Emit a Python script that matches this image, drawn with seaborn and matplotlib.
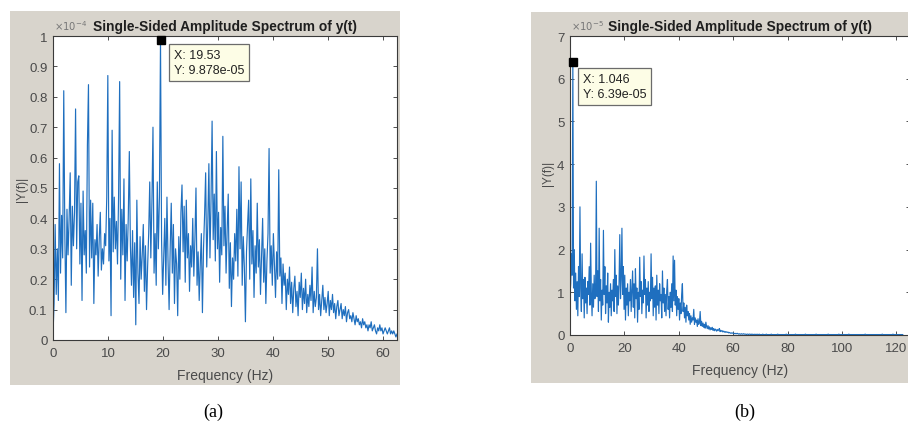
import numpy as np
import pandas as pd
import matplotlib
matplotlib.use("Agg")
import matplotlib.pyplot as plt
import seaborn as sns
from matplotlib.patches import Rectangle

# ---------------- data ----------------
# panel (a): |Y(f)| in units of 1e-4, frequency step in Hz
df_a = 0.1953125
amp_a = [
    0.02, 0.12, 0.38, 0.15, 0.30, 0.13, 0.58, 0.22, 0.41, 0.27,
    0.82, 0.35, 0.09, 0.43, 0.28, 0.40, 0.55, 0.18, 0.44, 0.31,
    0.42, 0.76, 0.30, 0.52, 0.54, 0.25, 0.45, 0.13, 0.49, 0.28,
    0.36, 0.22, 0.64, 0.84, 0.24, 0.46, 0.27, 0.45, 0.12, 0.33,
    0.28, 0.38, 0.21, 0.33, 0.42, 0.23, 0.30, 0.25, 0.35, 0.31,
    0.47, 0.87, 0.26, 0.40, 0.08, 0.69, 0.29, 0.47, 0.30, 0.39,
    0.25, 0.47, 0.85, 0.20, 0.43, 0.28, 0.53, 0.13, 0.38, 0.26,
    0.40, 0.62, 0.31, 0.18, 0.36, 0.14, 0.32, 0.05, 0.46, 0.22,
    0.12, 0.34, 0.20, 0.28, 0.38, 0.16, 0.31, 0.10, 0.24, 0.35,
    0.52, 0.27, 0.45, 0.70, 0.22, 0.35, 0.18, 0.52, 0.30, 0.47,
    0.9878, 0.33, 0.15, 0.28, 0.40, 0.18, 0.47, 0.26, 0.10, 0.30,
    0.45, 0.22, 0.38, 0.12, 0.30, 0.25, 0.08, 0.34, 0.20, 0.42,
    0.51, 0.29, 0.44, 0.19, 0.46, 0.27, 0.35, 0.16, 0.31, 0.24,
    0.40, 0.21, 0.33, 0.50, 0.18, 0.29, 0.13, 0.25, 0.35, 0.09,
    0.30, 0.41, 0.55, 0.24, 0.38, 0.58, 0.27, 0.46, 0.72, 0.33,
    0.48, 0.26, 0.62, 0.30, 0.42, 0.19, 0.37, 0.28, 0.67, 0.31,
    0.44, 0.22, 0.36, 0.48, 0.17, 0.32, 0.11, 0.27, 0.20, 0.35,
    0.26, 0.43, 0.21, 0.57, 0.30, 0.52, 0.18, 0.34, 0.24, 0.06,
    0.29, 0.38, 0.46, 0.20, 0.53, 0.25, 0.36, 0.14, 0.31, 0.22,
    0.45, 0.24, 0.33, 0.15, 0.28, 0.40, 0.19, 0.30, 0.12, 0.26,
    0.35, 0.63, 0.22, 0.31, 0.18, 0.35, 0.24, 0.14, 0.29, 0.20,
    0.56, 0.21, 0.27, 0.12, 0.25, 0.18, 0.22, 0.10, 0.20, 0.15,
    0.24, 0.12, 0.19, 0.09, 0.17, 0.21, 0.11, 0.16, 0.08, 0.19,
    0.14, 0.22, 0.10, 0.17, 0.12, 0.20, 0.09, 0.15, 0.11, 0.18,
    0.13, 0.24, 0.09, 0.16, 0.11, 0.14, 0.30, 0.10, 0.15, 0.08,
    0.13, 0.18, 0.10, 0.14, 0.09, 0.12, 0.16, 0.08, 0.13, 0.10,
    0.15, 0.09, 0.12, 0.07, 0.11, 0.13, 0.08, 0.10, 0.12, 0.07,
    0.10, 0.08, 0.11, 0.06, 0.09, 0.10, 0.07, 0.08, 0.06, 0.09,
    0.07, 0.05, 0.08, 0.06, 0.07, 0.05, 0.06, 0.04, 0.07, 0.05,
    0.06, 0.04, 0.05, 0.03, 0.05, 0.04, 0.06, 0.03, 0.04, 0.05,
    0.03, 0.02, 0.04, 0.03, 0.05, 0.03, 0.04, 0.02, 0.03, 0.04,
    0.03, 0.02, 0.03, 0.04, 0.02, 0.03, 0.02, 0.03, 0.02, 0.01, 0.02,
]

# panel (b): |Y(f)| in units of 1e-5, frequency step in Hz
df_b = 0.2615
amp_b = [
    0.95, 1.20, 1.90, 1.40, 6.39, 1.10, 2.00, 0.80, 1.45, 0.60,
    1.25, 0.45, 1.60, 0.90, 3.00, 1.10, 0.55, 1.90, 0.85, 1.30,
    0.40, 1.35, 0.75, 1.10, 0.50, 1.25, 0.95, 1.60, 0.70, 2.15,
    1.00, 0.45, 1.20, 0.65, 1.40, 0.85, 1.10, 3.60, 0.90, 1.50,
    0.55, 2.50, 0.80, 1.30, 0.35, 1.05, 0.70, 2.45, 0.95, 1.60,
    0.50, 1.15, 0.75, 1.45, 0.30, 1.00, 0.65, 1.20, 0.45, 1.05,
    0.80, 1.30, 0.55, 2.00, 0.90, 1.40, 0.50, 1.15, 0.70, 1.25,
    2.35, 0.85, 1.30, 2.50, 0.95, 1.60, 0.60, 1.40, 0.35, 1.10,
    0.70, 1.20, 0.45, 1.00, 0.80, 1.30, 0.55, 1.05, 1.50, 0.65,
    1.20, 0.40, 1.55, 0.85, 1.10, 0.30, 1.00, 0.60, 1.82, 0.90,
    1.25, 0.50, 1.05, 0.75, 1.85, 0.95, 1.30, 0.40, 1.10, 0.70,
    1.25, 0.55, 1.00, 0.80, 1.90, 0.85, 1.35, 0.45, 1.10, 0.65,
    1.15, 0.35, 1.40, 0.70, 1.05, 0.50, 1.20, 0.80, 0.95, 0.40,
    1.50, 0.75, 1.10, 0.55, 0.95, 0.45, 1.05, 1.30, 0.60, 0.90,
    0.40, 1.00, 0.65, 1.20, 0.55, 1.85, 0.80, 1.75, 0.70, 1.05,
    0.45, 0.90, 0.60, 0.85, 0.35, 0.75, 0.50, 0.95, 1.20, 0.55,
    0.75, 0.40, 0.65, 0.30, 0.70, 0.45, 0.55, 0.35, 0.50, 0.25,
    0.45, 0.30, 0.40, 0.35, 0.60, 0.25, 0.40, 0.30, 0.35, 0.20,
    0.38, 0.25, 0.30, 0.55, 0.22, 0.32, 0.20, 0.28, 0.18, 0.25,
    0.16, 0.30, 0.20, 0.15, 0.22, 0.14, 0.19, 0.12, 0.17, 0.13,
    0.18, 0.11, 0.15, 0.10, 0.14, 0.12, 0.09, 0.13, 0.10, 0.12,
    0.15, 0.08, 0.11, 0.09, 0.10, 0.07, 0.09, 0.08, 0.06, 0.08,
    0.07, 0.06, 0.07, 0.05, 0.06, 0.05, 0.04, 0.05, 0.04, 0.05,
    0.04, 0.03, 0.04, 0.03, 0.03, 0.04, 0.03, 0.02, 0.03, 0.02,
    0.02, 0.03, 0.02, 0.02, 0.03, 0.02, 0.02, 0.02, 0.01, 0.02,
    0.02, 0.01, 0.02, 0.02, 0.01, 0.02, 0.01, 0.02, 0.01, 0.01,
    0.02, 0.01, 0.01, 0.02, 0.01, 0.01, 0.02, 0.01, 0.01, 0.01,
    0.01, 0.02, 0.01, 0.01, 0.01, 0.01, 0.02, 0.01, 0.01, 0.01,
    0.01, 0.01, 0.01, 0.02, 0.01, 0.01, 0.01, 0.01, 0.01, 0.01,
    0.01, 0.01, 0.02, 0.01, 0.01, 0.01, 0.01, 0.01, 0.01, 0.01,
    0.01, 0.01, 0.01, 0.01, 0.02, 0.01, 0.01, 0.01, 0.01, 0.01,
    0.01, 0.01, 0.01, 0.01, 0.01, 0.01, 0.01, 0.02, 0.01, 0.01,
    0.01, 0.01, 0.01, 0.01, 0.01, 0.01, 0.01, 0.01, 0.01, 0.01,
    0.01, 0.02, 0.01, 0.01, 0.01, 0.01, 0.01, 0.01, 0.01, 0.01,
    0.01, 0.01, 0.01, 0.01, 0.01, 0.01, 0.02, 0.01, 0.01, 0.01,
    0.01, 0.01, 0.01, 0.01, 0.01, 0.01, 0.01, 0.01, 0.01, 0.01,
    0.01, 0.01, 0.01, 0.02, 0.01, 0.01, 0.01, 0.01, 0.01, 0.01,
    0.01, 0.01, 0.01, 0.01, 0.01, 0.01, 0.01, 0.01, 0.02, 0.01,
    0.01, 0.01, 0.01, 0.01, 0.01, 0.01, 0.01, 0.01, 0.01, 0.01,
    0.01, 0.01, 0.02, 0.01, 0.01, 0.01, 0.01, 0.01, 0.01, 0.01,
    0.01, 0.01, 0.01, 0.01, 0.01, 0.01, 0.01, 0.01, 0.01, 0.01,
    0.01, 0.01, 0.01, 0.01, 0.01, 0.02, 0.01, 0.01, 0.01, 0.01,
    0.01, 0.01, 0.01, 0.01, 0.01, 0.01, 0.01, 0.01, 0.01, 0.01,
    0.01, 0.01, 0.01, 0.01, 0.01, 0.01, 0.01, 0.01, 0.01, 0.02,
    0.01, 0.01, 0.01, 0.01, 0.01, 0.01, 0.01, 0.01, 0.01, 0.01,
    0.01, 0.01, 0.01, 0.01, 0.02, 0.01, 0.01, 0.01, 0.01, 0.01,
    0.01, 0.01, 0.01, 0.01, 0.01, 0.01, 0.01, 0.01, 0.01,
]

xticks_a = [0, 10, 20, 30, 40, 50, 60]
yticks_a = [0, 0.1, 0.2, 0.3, 0.4, 0.5, 0.6, 0.7, 0.8, 0.9, 1]
ylabels_a = ["0", "0.1", "0.2", "0.3", "0.4", "0.5", "0.6", "0.7", "0.8", "0.9", "1"]
xticks_b = [0, 20, 40, 60, 80, 100, 120]
yticks_b = [0, 1, 2, 3, 4, 5, 6, 7]
ylabels_b = ["0", "1", "2", "3", "4", "5", "6", "7"]
tip_a = ["X: 19.53", "Y: 9.878e-05"]
tip_b = ["X: 1.046", "Y: 6.39e-05"]
title = "Single-Sided Amplitude Spectrum of y(t)"

freq_a = np.arange(len(amp_a)) * df_a
freq_b = np.arange(len(amp_b)) * df_b

# ---------------- styling ----------------
sns.set_style("ticks")
plt.rcParams["font.family"] = ["Liberation Sans", "DejaVu Sans"]

W, H = 908, 435
fig = plt.figure(figsize=(W / 100, H / 100), dpi=100)
fig.patch.set_facecolor("white")

PANEL = "#d8d4cc"
LINE = "#1f6fbf"
LABEL = "#4a4a4a"


def px_rect(x0, y0, x1, y1):
    return [x0 / W, 1 - y1 / H, (x1 - x0) / W, (y1 - y0) / H]


def draw(panel_px, ax_px, f, a, xmax, xt, ymax, yt, ytl, exp_txt, tip, tip_off,
         ylab_x, ylab_y):
    pr = px_rect(*panel_px)
    fig.add_artist(Rectangle((pr[0], pr[1]), pr[2], pr[3], transform=fig.transFigure,
                             facecolor=PANEL, edgecolor="none", zorder=-10))
    ax = fig.add_axes(px_rect(*ax_px))
    axw = ax_px[2] - ax_px[0]
    axh = ax_px[3] - ax_px[1]
    data = pd.DataFrame({"f": f, "a": a})
    sns.lineplot(data=data, x="f", y="a", ax=ax, color=LINE, lw=0.85,
                 estimator=None, sort=False)
    ax.set_xlim(0, xmax)
    ax.set_ylim(0, ymax)
    ax.set_xticks(xt)
    ax.set_xticklabels([str(v) for v in xt])
    ax.set_yticks(yt)
    ax.set_yticklabels(ytl)
    ax.set_facecolor("white")
    ax.tick_params(direction="in", length=3, width=0.6, color="#333333",
                   labelcolor=LABEL, labelsize=9.5, top=True, right=True)
    ax.tick_params(axis="x", pad=5)
    ax.tick_params(axis="y", pad=4)
    for s in ax.spines.values():
        s.set_visible(True)
        s.set_color("#3a3a3a")
        s.set_linewidth(0.8)
    ax.set_xlabel("Frequency (Hz)", fontsize=10, color=LABEL)
    ax.xaxis.set_label_coords(0.5, -28 / axh)
    ax.set_ylabel("|Y(f)|", fontsize=8.5, color=LABEL)
    ax.yaxis.set_label_coords(-(ax_px[0] - ylab_x) / axw, ylab_y)
    ax.set_title(title, fontsize=9.9, fontweight="bold", color="#1e1e1e", pad=4)
    ax.text(1 / axw, 1 + 6 / axh, exp_txt, transform=ax.transAxes, fontsize=7.2,
            color="#777777", ha="left", va="baseline")
    # data tip at the maximum
    i = int(np.argmax(a))
    ax.plot([f[i]], [a[i]], marker="s", ms=5.5, color="black", clip_on=False,
            zorder=5)
    ax.annotate("\n".join(tip), xy=(f[i], a[i]), xytext=tip_off,
                textcoords="offset pixels", ha="left", va="top", fontsize=9,
                color="#222222", linespacing=1.35,
                bbox=dict(boxstyle="square,pad=0.4", fc="#fdfde6", ec="#6b6b6b",
                          lw=0.9), zorder=6)
    return ax


ax_a = draw((10, 12, 400, 386), (53, 37, 397, 341), freq_a, amp_a, 62.5,
            xticks_a, 1.0, yticks_a, ylabels_a, r"$\times10^{-4}$", tip_a,
            (13, -9), 28, 0.5)
ax_b = draw((531, 13, 908, 384), (570, 37, 910, 336), freq_b, amp_b, 125,
            xticks_b, 7, yticks_b, ylabels_b, r"$\times10^{-5}$", tip_b,
            (10, -11), 554, 0.545)

fig.text(213 / W, 1 - 412 / H, "(a)", fontsize=13, family="Liberation Serif",
         ha="center", va="center", color="black")
fig.text(745 / W, 1 - 412 / H, "(b)", fontsize=13, family="Liberation Serif",
         ha="center", va="center", color="black")

fig.savefig("out.png", dpi=100, facecolor="white")
